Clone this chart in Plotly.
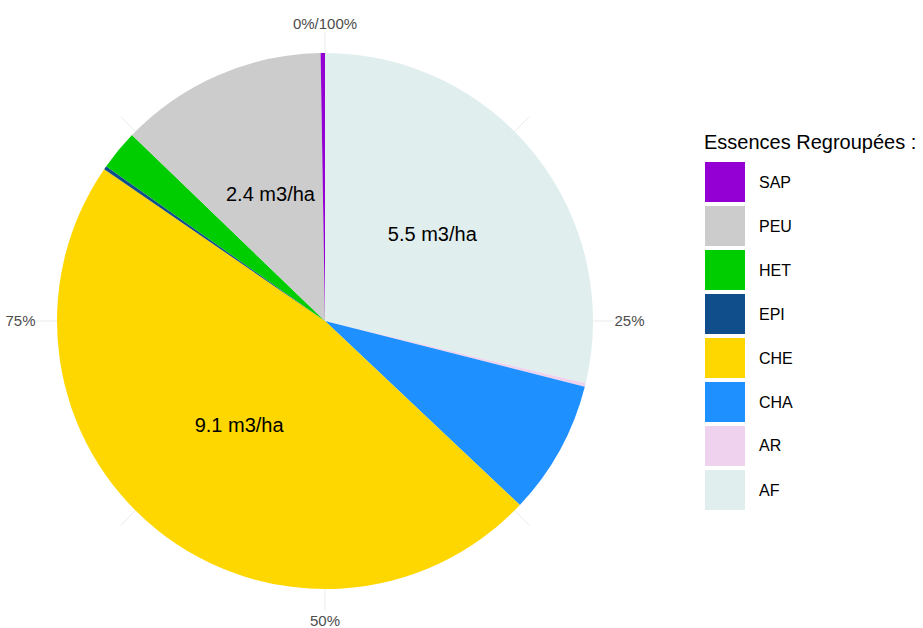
import plotly.graph_objects as go

# Volume per species group (m3/ha), listed clockwise from the top of the pie
categories = ["AF", "AR", "CHA", "CHE", "EPI", "HET", "PEU", "SAP"]
volumes = [5.5, 0.04, 1.55, 9.1, 0.04, 0.46, 2.4, 0.05]

# Order of the legend entries
legend_order = ["SAP", "PEU", "HET", "EPI", "CHE", "CHA", "AR", "AF"]

colors = {
    "SAP": "#9400D3",
    "PEU": "#CCCCCC",
    "HET": "#00CD00",
    "EPI": "#104E8B",
    "CHE": "#FFD700",
    "CHA": "#1E90FF",
    "AR": "#EED2EE",
    "AF": "#E0EEEE",
}

# Angular axis ticks (percent of the total volume)
tick_percent = [0, 12.5, 25, 37.5, 50, 62.5, 75, 87.5]
tick_text = ["0%/100%", "", "25%", "", "50%", "", "75%", ""]

label_min_volume = 2.0
legend_title = "Essences Regroupées :"

W, H = 923, 628
FONT = "Liberation Sans, Arial, sans-serif"

total = sum(volumes)
widths, mids = [], []
acc = 0.0
for v in volumes:
    w = v / total * 360.0
    widths.append(w)
    mids.append(acc + w / 2.0)
    acc += w

fig = go.Figure()

for cat, w, m in zip(categories, widths, mids):
    fig.add_trace(go.Barpolar(
        r=[1.0], theta=[m], width=[w],
        marker=dict(color=colors[cat], line=dict(width=0)),
        name=cat, showlegend=False, hoverinfo="skip",
    ))

lab_theta = [m for v, m in zip(volumes, mids) if v >= label_min_volume]
lab_text = [f"{v:.1f} m3/ha" for v in volumes if v >= label_min_volume]
fig.add_trace(go.Scatterpolar(
    r=[0.51] * len(lab_theta), theta=lab_theta, text=lab_text,
    mode="text", textfont=dict(family=FONT, size=20, color="#000000"),
    showlegend=False, hoverinfo="skip",
))

# Polar panel geometry (pixels)
cx, cy, R_pie, R_out = 325, 321, 268, 289
fig.update_layout(
    width=W, height=H,
    margin=dict(l=0, r=0, t=0, b=0),
    paper_bgcolor="white",
    plot_bgcolor="white",
    polar=dict(
        domain=dict(x=[(cx - R_out) / W, (cx + R_out) / W],
                    y=[1 - (cy + R_out) / H, 1 - (cy - R_out) / H]),
        bgcolor="white",
        angularaxis=dict(
            rotation=90, direction="clockwise",
            tickmode="array",
            tickvals=[p * 3.6 for p in tick_percent],
            ticktext=tick_text,
            showline=False, ticks="",
            gridcolor="#EBEBEB", gridwidth=1,
            layer="below traces",
            tickfont=dict(family=FONT, size=15, color="#4D4D4D"),
        ),
        radialaxis=dict(range=[0, R_out / R_pie], visible=False),
    ),
)

# Legend drawn as large square keys
key_x0, key_y0, key_size, key_step = 705, 162, 40, 44
label_x = 757
fig.add_annotation(
    x=702 / W, y=1 - 142 / H, xref="paper", yref="paper",
    text=legend_title, showarrow=False, xanchor="left", yanchor="middle",
    font=dict(family=FONT, size=20, color="#000000"),
)
for i, cat in enumerate(legend_order):
    y_top = key_y0 + i * key_step
    fig.add_shape(
        type="rect", xref="paper", yref="paper",
        x0=key_x0 / W, x1=(key_x0 + key_size) / W,
        y0=1 - (y_top + key_size) / H, y1=1 - y_top / H,
        fillcolor=colors[cat], line=dict(width=0),
    )
    fig.add_annotation(
        x=label_x / W, y=1 - (y_top + key_size / 2) / H,
        xref="paper", yref="paper",
        text=cat, showarrow=False, xanchor="left", yanchor="middle",
        font=dict(family=FONT, size=16, color="#000000"),
    )

fig.write_html("out.html")
